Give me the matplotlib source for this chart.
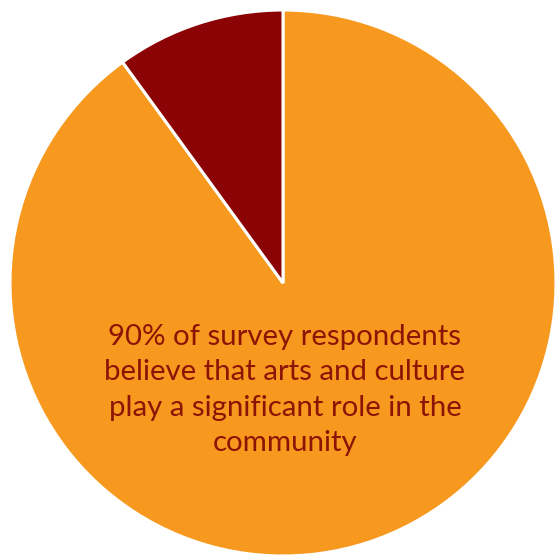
import matplotlib.pyplot as plt

# share of respondents
labels = ["Significant role", "Other"]
shares = [90, 10]
colors = ["#F7981F", "#8B0304"]

caption = ("90% of survey respondents\n"
           "believe that arts and culture\n"
           "play a significant role in the\n"
           "community")

fig = plt.figure(figsize=(5.55, 5.55), dpi=100)
ax = fig.add_axes([0, 0, 1, 1])

ax.pie(
    shares,
    colors=colors,
    startangle=90,
    counterclock=False,
    center=(283, 272),
    radius=273,
    frame=True,
    wedgeprops=dict(edgecolor="white", linewidth=2.2),
)
ax.set_xlim(0, 555)
ax.set_ylim(0, 555)
ax.set_aspect("equal")
ax.axis("off")

ax.text(285, 165, caption, ha="center", va="center", fontsize=21.2,
        family="Lato", color="#8B1404", linespacing=1.46)

fig.savefig("out.png", dpi=100)
